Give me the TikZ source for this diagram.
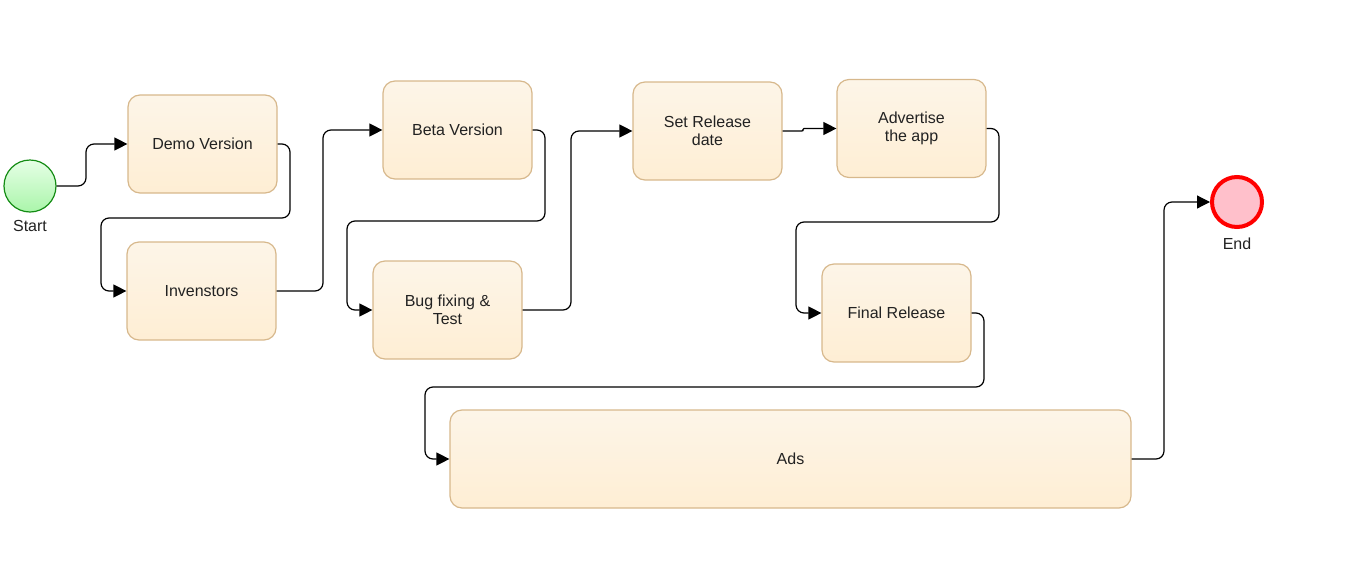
\documentclass[tikz,border=0pt]{standalone}
\usepackage{fontspec}
\setmainfont{Liberation Sans}
\usetikzlibrary{arrows.meta}

\definecolor{boxline}{RGB}{215,184,140}
\definecolor{boxtop}{RGB}{253,245,232}
\definecolor{boxbot}{RGB}{254,238,212}
\definecolor{txt}{RGB}{34,34,34}

\begin{document}
\begin{tikzpicture}[x=1pt,y=1pt,yscale=-1,xscale=1,
  every node/.style={font=\fontsize{16}{18}\selectfont,text=txt},
  task/.style={draw=boxline,line width=1.2pt,rounded corners=12pt,top color=boxtop,bottom color=boxbot,
    minimum width=149pt,minimum height=98pt,inner sep=0pt,align=center},
  startev/.style={circle,draw={rgb,255:red,20;green,140;blue,20},line width=1.2pt,
    top color={rgb,255:red,230;green,255;blue,230},bottom color={rgb,255:red,170;green,245;blue,170},
    minimum size=52pt,inner sep=0pt},
  endev/.style={circle,draw={rgb,255:red,255;green,0;blue,0},line width=4pt,
    fill={rgb,255:red,255;green,192;blue,203},minimum size=50pt,inner sep=0pt},
  flow/.style={draw=black,line width=1.2pt,rounded corners=8pt,-{Triangle[length=13pt,width=13pt]}}]
%set diagram size
\useasboundingbox (0,0) rectangle (1347,568);

%Start event
\draw (30,186) node [startev] (start) {};
% Text Node
\draw (30,226) node (startlbl) {Start};
%End event
\draw (1237,202) node [endev] (end) {};
% Text Node
\draw (1237,244) node (endlbl) {End};

%Tasks
\draw (202.5,144) node [task] (demo) {Demo Version};
\draw (201.5,291) node [task] (inv) {Invenstors};
\draw (457.5,130) node [task] (beta) {Beta Version};
\draw (447.5,310) node [task] (bug) {Bug fixing \&\\Test};
\draw (707.5,131) node [task] (setrel) {Set Release\\date};
\draw (911.5,128.5) node [task] (adv) {Advertise\\the app};
\draw (896.5,313) node [task] (final) {Final Release};
\draw (790.5,459) node [task,minimum width=681pt] (ads) {Ads};

%Flows
\draw [flow] (start.east) -| (86,166) |- (demo.west);
\draw [flow] (demo.east) -| (290,218) -| (101,270) |- (inv.west);
\draw [flow] (inv.east) -| (323,200) |- (beta.west);
\draw [flow] (beta.east) -| (545,221) -| (347,280) |- (bug.west);
\draw [flow] (bug.east) -| (571,200) |- (setrel.west);
\draw [flow,rounded corners=1pt] (setrel.east) -| (803,130) |- (adv.west);
\draw [flow] (adv.east) -| (999,222) -| (796,290) |- (final.west);
\draw [flow] (final.east) -| (984,387) -| (425,430) |- (ads.west);
\draw [flow] (ads.east) -| (1164,300) |- (end.west);

\end{tikzpicture}
\end{document}
